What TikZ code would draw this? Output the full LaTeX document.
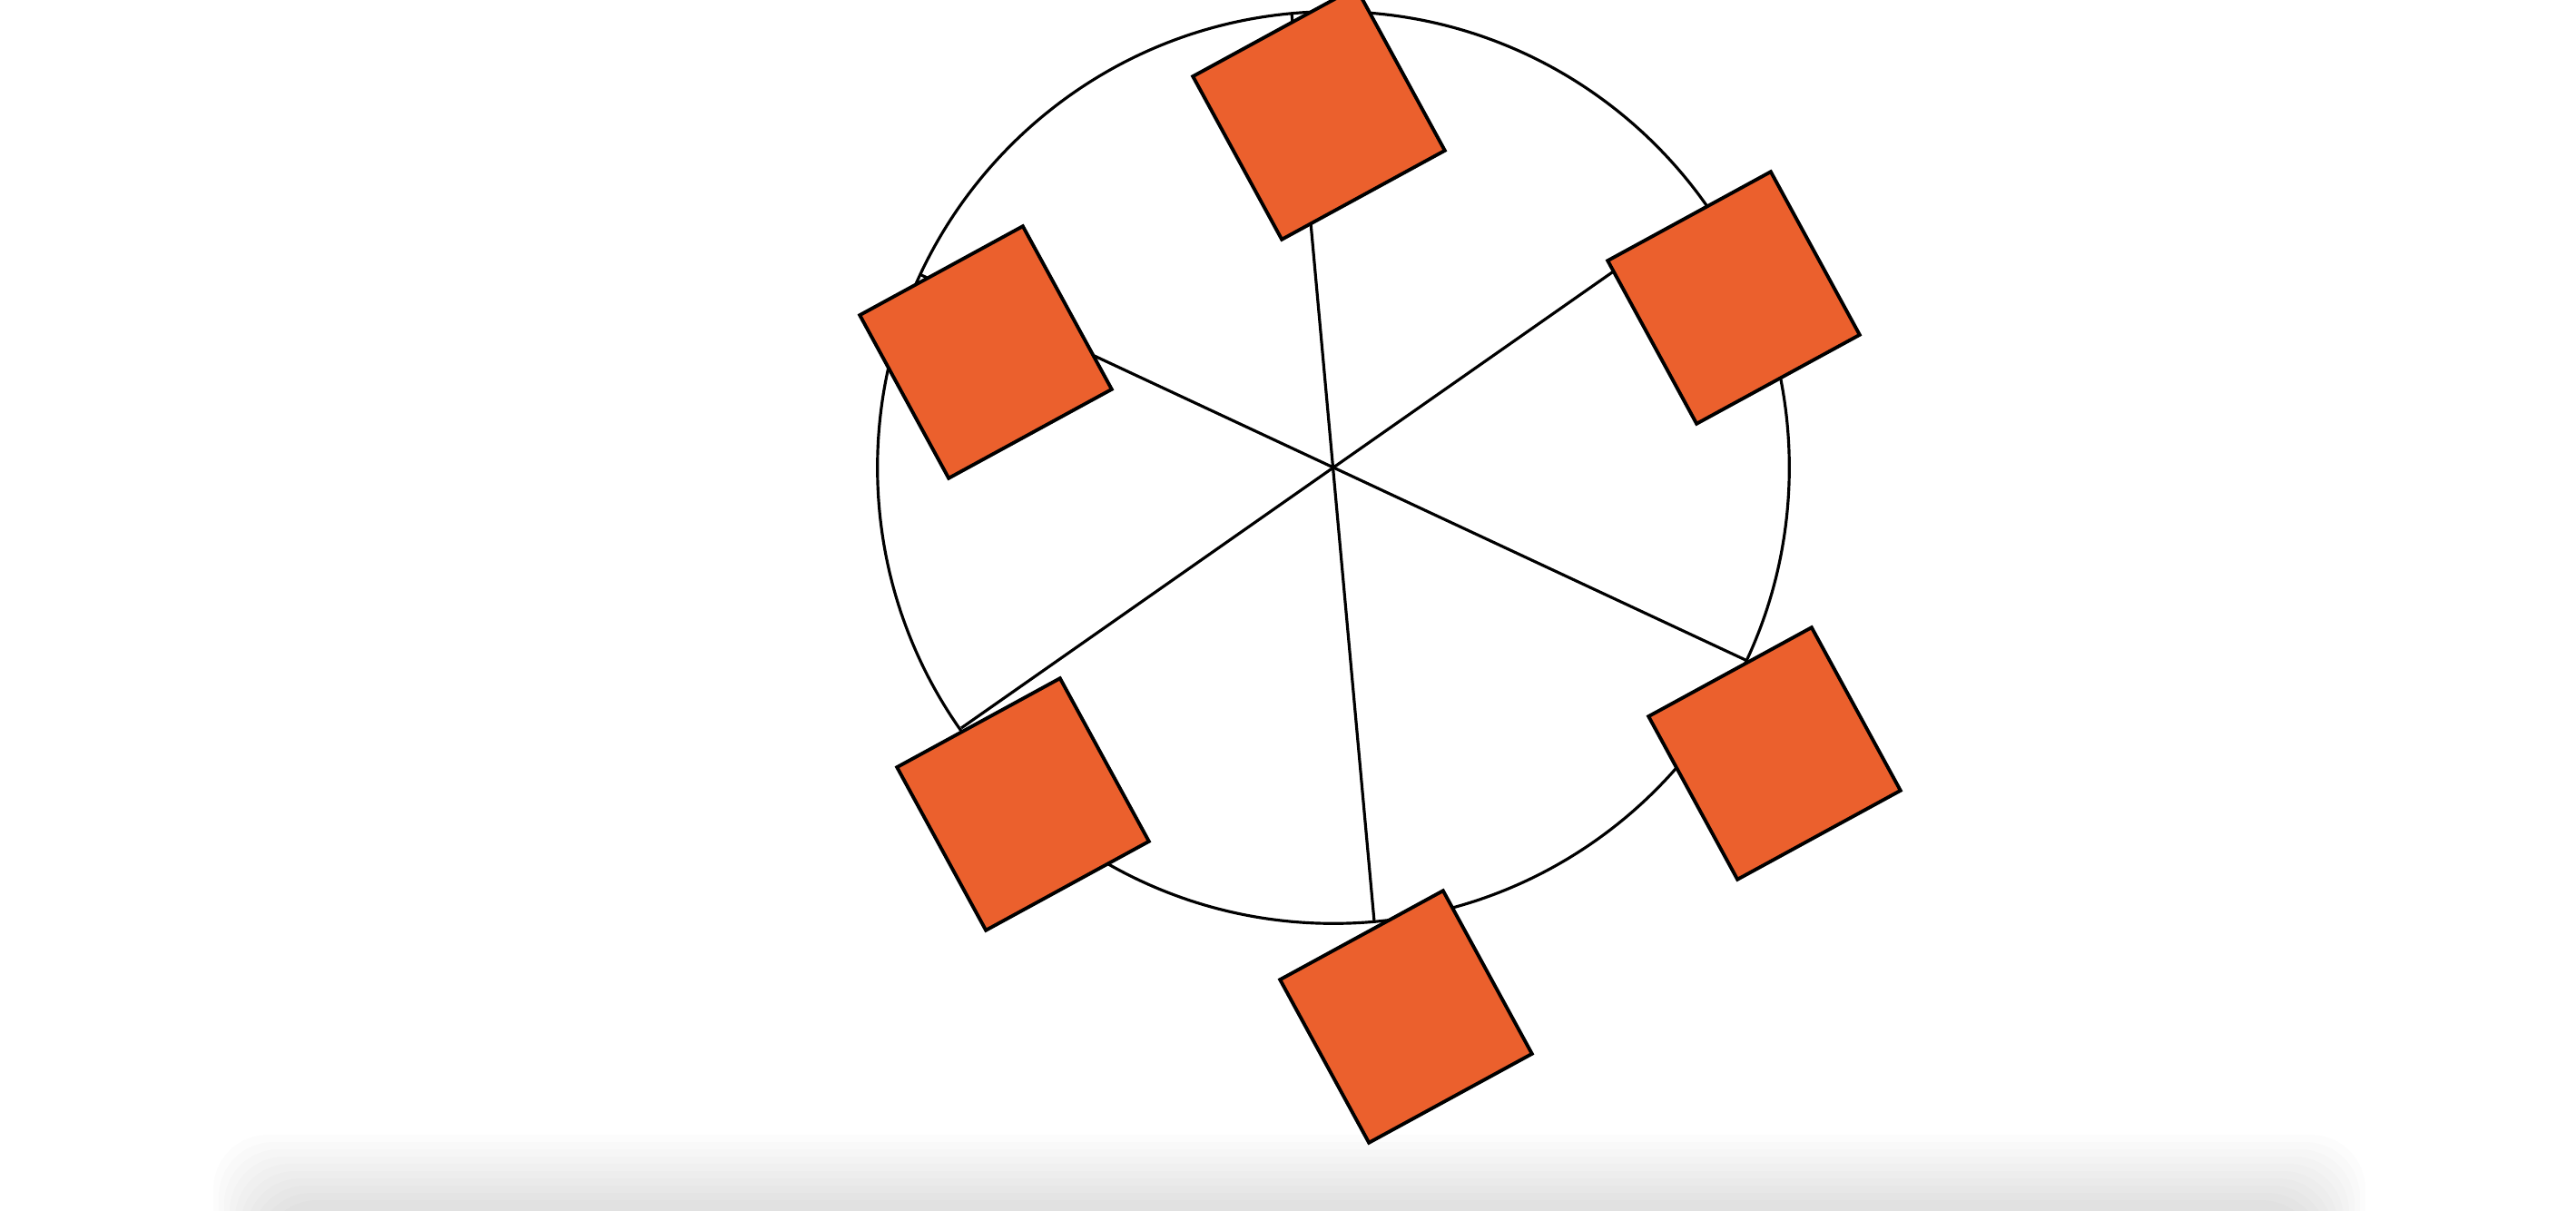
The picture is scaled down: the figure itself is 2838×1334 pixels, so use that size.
\documentclass[tikz,border=0pt]{standalone}
\usepackage{tikz}
\definecolor{cabinorange}{RGB}{235,96,45}
\tikzset{cabin/.style={draw, fill=cabinorange, rotate=28.6, minimum size=2.045cm, inner sep=0pt, line width=1.1pt}}

\begin{document}
\begin{tikzpicture}[x=0.01cm, y=-0.01cm, line width=0.9pt]
	\useasboundingbox (0,0) rectangle (2838,1334);
	% shadow at the bottom
	\foreach \i in {0,...,9}
		\fill[black, opacity=0.01, rounded corners=0.6cm] (235+6*\i,1250+8*\i) rectangle (2606-6*\i,1420);
	% rim
	\coordinate (hub) at (1469,515);
	\draw (hub) circle (5.02cm);
	% spokes
	\coordinate (top) at (1423,14);
	\coordinate (bottom) at (1514,1015);
	\coordinate (upleft) at (1015,303);
	\coordinate (lowright) at (1923,727);
	\coordinate (lowleft) at (1059,802);
	\coordinate (upright) at (1879,228);
	\draw (top) -- (bottom);
	\draw (upleft) -- (lowright);
	\draw (lowleft) -- (upright);
	% cabins
	\node[cabin] (c1) at (1453,125) {};
	\node[cabin] (c2) at (1910,328) {};
	\node[cabin] (c3) at (1955,830) {};
	\node[cabin] (c4) at (1549,1120) {};
	\node[cabin] (c5) at (1127,886) {};
	\node[cabin] (c6) at (1086,388) {};
\end{tikzpicture}
\end{document}
